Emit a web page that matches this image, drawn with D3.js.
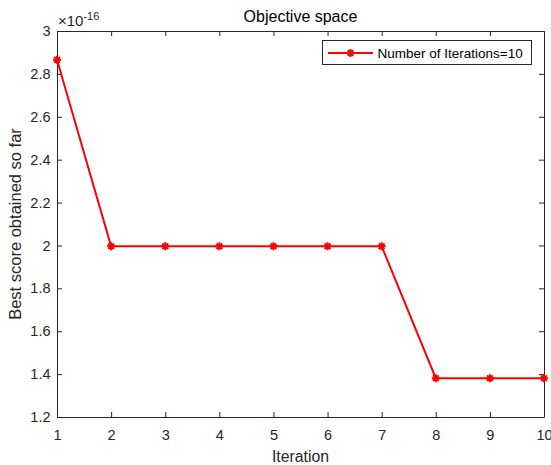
<!DOCTYPE html>
<html>
<head>
<meta charset="utf-8">
<script src="https://cdn.jsdelivr.net/npm/d3@7/dist/d3.min.js"></script>
<style>
  body { margin: 0; background: #fff; }
  svg { display: block; font-family: "Liberation Sans", Arial, Helvetica, sans-serif; }
</style>
</head>
<body>
<div id="chartDiv"></div>
<script>
// Data
var iterations = [1, 2, 3, 4, 5, 6, 7, 8, 9, 10];
var bestScore  = [2.866e-16, 1.996e-16, 1.996e-16, 1.996e-16, 1.996e-16,
                  1.996e-16, 1.996e-16, 1.381e-16, 1.381e-16, 1.381e-16];
var yTicks     = [1.2, 1.4, 1.6, 1.8, 2, 2.2, 2.4, 2.6, 2.8, 3];
var EXPONENT   = 1e-16;
var legendText = "Number of Iterations=10";

// Layout
var WIDTH  = 551;
var HEIGHT = 465;
var margin = { top: 31, right: 7, bottom: 48, left: 57 };
var AXIS_COLOR = "#262626";
var LINE_COLOR = "#ff0000";
var TICK_LEN = 5;

var svg = d3.select("#chartDiv").append("svg")
    .attr("width", WIDTH)
    .attr("height", HEIGHT);

var plotW = WIDTH - margin.left - margin.right;
var plotH = HEIGHT - margin.top - margin.bottom;

var x = d3.scaleLinear().domain([1, 10]).range([margin.left, margin.left + plotW]);
var y = d3.scaleLinear().domain([1.2e-16, 3e-16]).range([margin.top + plotH, margin.top]);

// Axes (ticks inside, box on all sides)
var fmtY = function(d) { return d3.format("~g")(Math.round(d * 10) / 10); };

var xAxis = d3.axisBottom(x).tickValues(iterations).tickSizeInner(-TICK_LEN).tickSizeOuter(0)
    .tickPadding(13).tickFormat(d3.format("d"));
var xAxisTop = d3.axisTop(x).tickValues(iterations).tickSizeInner(-TICK_LEN).tickSizeOuter(0)
    .tickFormat("");
var yAxis = d3.axisLeft(y).tickValues(yTicks.map(function(t) { return t * EXPONENT; }))
    .tickSizeInner(-TICK_LEN).tickSizeOuter(0).tickPadding(6.5)
    .tickFormat(function(d) { return fmtY(d / EXPONENT); });
var yAxisRight = d3.axisRight(y).tickValues(yTicks.map(function(t) { return t * EXPONENT; }))
    .tickSizeInner(-TICK_LEN).tickSizeOuter(0).tickFormat("");

var gx = svg.append("g").attr("transform", "translate(0," + (margin.top + plotH) + ")").call(xAxis);
var gxt = svg.append("g").attr("transform", "translate(0," + margin.top + ")").call(xAxisTop);
var gy = svg.append("g").attr("transform", "translate(" + margin.left + ",0)").call(yAxis);
var gyr = svg.append("g").attr("transform", "translate(" + (margin.left + plotW) + ",0)").call(yAxisRight);

[gx, gxt, gy, gyr].forEach(function(g) {
    g.selectAll("path.domain").attr("stroke", AXIS_COLOR).attr("stroke-width", 1);
    g.selectAll(".tick line").attr("stroke", AXIS_COLOR).attr("stroke-width", 1);
    g.selectAll(".tick text")
        .attr("fill", AXIS_COLOR)
        .style("font-size", "14.5px")
        .style("font-family", "\"Liberation Sans\", Arial, sans-serif");
});

// Exponent label
var expLabel = svg.append("text")
    .attr("x", margin.left + 1)
    .attr("y", 26)
    .attr("fill", AXIS_COLOR)
    .style("font-size", "15px");
expLabel.append("tspan").text("\u00d710");
expLabel.append("tspan").attr("dy", -6).style("font-size", "11px").text("-16");

// Title and axis labels
svg.append("text")
    .attr("x", margin.left + plotW / 2)
    .attr("y", 21.5)
    .attr("text-anchor", "middle")
    .attr("fill", "#000")
    .style("font-size", "16px")
    .text("Objective space");

svg.append("text")
    .attr("x", margin.left + plotW / 2)
    .attr("y", 461.5)
    .attr("text-anchor", "middle")
    .attr("fill", AXIS_COLOR)
    .style("font-size", "15.8px")
    .text("Iteration");

svg.append("text")
    .attr("transform", "translate(21," + (margin.top + plotH / 2) + ") rotate(-90)")
    .attr("text-anchor", "middle")
    .attr("fill", AXIS_COLOR)
    .style("font-size", "16.5px")
    .text("Best score obtained so far");

// Line
var line = d3.line()
    .x(function(d, i) { return x(iterations[i]); })
    .y(function(d) { return y(d); });

svg.append("path")
    .datum(bestScore)
    .attr("fill", "none")
    .attr("stroke", LINE_COLOR)
    .attr("stroke-width", 2)
    .attr("d", line);

// Asterisk marker
var drawStar = function(g, cx, cy) {
    var r = 4;
    var d = r * 0.707;
    var p = "M" + (cx - r) + "," + cy + "L" + (cx + r) + "," + cy +
            "M" + cx + "," + (cy - r) + "L" + cx + "," + (cy + r) +
            "M" + (cx - d) + "," + (cy - d) + "L" + (cx + d) + "," + (cy + d) +
            "M" + (cx - d) + "," + (cy + d) + "L" + (cx + d) + "," + (cy - d);
    g.append("path")
        .attr("d", p)
        .attr("stroke", LINE_COLOR)
        .attr("stroke-width", 2)
        .attr("fill", "none");
};

var markers = svg.append("g");
bestScore.forEach(function(v, i) {
    drawStar(markers, x(iterations[i]), y(v));
});

// Legend
var legend = svg.append("g");
legend.append("rect")
    .attr("x", 322.5)
    .attr("y", 40.5)
    .attr("width", 209)
    .attr("height", 24)
    .attr("fill", "#fff")
    .attr("stroke", AXIS_COLOR)
    .attr("stroke-width", 1);
legend.append("line")
    .attr("x1", 328).attr("x2", 373)
    .attr("y1", 53).attr("y2", 53)
    .attr("stroke", LINE_COLOR)
    .attr("stroke-width", 2);
drawStar(legend, 350.5, 53);
legend.append("text")
    .attr("x", 377.5)
    .attr("y", 58)
    .attr("fill", "#000")
    .style("font-size", "13.5px")
    .text(legendText);
</script>
</body>
</html>
